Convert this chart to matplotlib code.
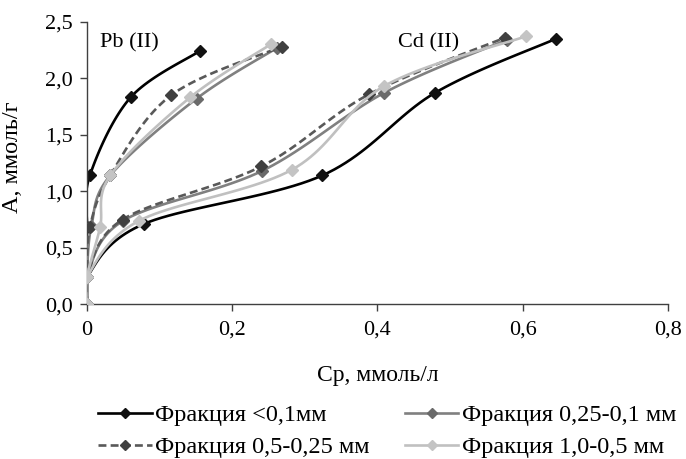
import numpy as np
import matplotlib
matplotlib.use("Agg")
import matplotlib.pyplot as plt
from matplotlib.lines import Line2D

plt.rcParams["font.family"] = ["Liberation Serif", "DejaVu Serif"]

# fraction labels, in Excel series order
labels = ["Фракция <0,1мм", "Фракция 0,25-0,1 мм", "Фракция 0,5-0,25 мм", "Фракция 1,0-0,5 мм"]

# Pb (II) isotherms: Cp (mmol/l) vs A (mmol/g)
pb_x = [
    [0, 0, 0, 0.004, 0.060, 0.155],
    [0, 0, 0.006, 0.032, 0.151, 0.262],
    [0, 0, 0.004, 0.032, 0.116, 0.268],
    [0, 0, 0.018, 0.032, 0.142, 0.253],
]
pb_y = [
    [0, 0.24, 0.68, 1.14, 1.83, 2.24],
    [0, 0.24, 0.69, 1.14, 1.82, 2.27],
    [0, 0.24, 0.68, 1.14, 1.85, 2.28],
    [0, 0.24, 0.68, 1.14, 1.83, 2.30],
]

# Cd (II) isotherms
cd_x = [
    [0, 0, 0.078, 0.324, 0.479, 0.646],
    [0, 0, 0.050, 0.241, 0.409, 0.578],
    [0, 0, 0.049, 0.240, 0.389, 0.576],
    [0, 0, 0.072, 0.282, 0.409, 0.604],
]
cd_y = [
    [0, 0.24, 0.71, 1.14, 1.87, 2.35],
    [0, 0.24, 0.74, 1.18, 1.87, 2.34],
    [0, 0.24, 0.75, 1.22, 1.86, 2.36],
    [0, 0.24, 0.74, 1.19, 1.93, 2.37],
]

line_colors = ["#000000", "#808080", "#595959", "#c0c0c0"]
marker_colors = ["#111111", "#6a6a6a", "#404040", "#c4c4c4"]
line_styles = ["-", "-", (0, (3, 1.6)), "-"]

XMAX, YMAX = 0.8, 2.5
FS = 16


def smooth(xs, ys, n=24):
    # Excel-like smoothed line: Catmull-Rom bezier in screen-ish space
    sx, sy = 581 / XMAX, 283 / YMAX
    P = np.column_stack([np.asarray(xs, float) * sx, np.asarray(ys, float) * sy])
    out = [P[0]]
    t = np.linspace(0, 1, n)[1:, None]
    for i in range(len(P) - 1):
        p0 = P[i - 1] if i > 0 else P[i]
        p1, p2 = P[i], P[i + 1]
        p3 = P[i + 2] if i + 2 < len(P) else P[i + 1]
        c1 = p1 + (p2 - p0) / 6
        c2 = p2 - (p3 - p1) / 6
        seg = ((1 - t) ** 3) * p1 + 3 * ((1 - t) ** 2) * t * c1 + 3 * (1 - t) * t ** 2 * c2 + t ** 3 * p2
        out.extend(seg)
    out = np.array(out)
    return out[:, 0] / sx, out[:, 1] / sy


fig = plt.figure(figsize=(6.86, 4.59), dpi=100)
ax = fig.add_axes([0.1268, 0.337, 0.8469, 0.6157])

for xs_set, ys_set in ((pb_x, pb_y), (cd_x, cd_y)):
    for i in range(4):
        xx, yy = smooth(xs_set[i], ys_set[i])
        ax.plot(xx, yy, color=line_colors[i], lw=1.9, ls=line_styles[i], zorder=2 + i)
        ax.plot(xs_set[i], ys_set[i], ls="none", marker="D", ms=6.5,
                mfc=marker_colors[i], mec=marker_colors[i], zorder=2.5 + i)

ax.set_xlim(0, XMAX)
ax.set_ylim(0, YMAX)
ax.set_xticks([0, 0.2, 0.4, 0.6, 0.8])
ax.set_xticklabels(["0", "0,2", "0,4", "0,6", "0,8"])
ax.set_yticks([0, 0.5, 1.0, 1.5, 2.0, 2.5])
ax.set_yticklabels(["0,0", "0,5", "1,0", "1,5", "2,0", "2,5"])
ax.spines["top"].set_visible(False)
ax.spines["right"].set_visible(False)
for s in ("left", "bottom"):
    ax.spines[s].set_color("#404040")
    ax.spines[s].set_linewidth(1.0)
ax.tick_params(direction="out", length=5, width=1.0, color="#404040", labelsize=FS)
ax.tick_params(axis="x", pad=7)
ax.tick_params(axis="y", pad=5)

ax.set_xlabel("Ср, ммоль/л", fontsize=17)
ax.xaxis.set_label_coords(0.5, -0.215)
ax.set_ylabel("А, ммоль/г", fontsize=17.5)
ax.yaxis.set_label_coords(-0.11, 0.52)

ax.text(0.018, 2.31, "Pb (II)", fontsize=FS, va="center", ha="left")
ax.text(0.428, 2.31, "Cd (II)", fontsize=FS, va="center", ha="left")

handles = []
for i in range(4):
    handles.append(Line2D([], [], color=line_colors[i], lw=1.9, ls=line_styles[i],
                          marker="D", ms=5, mfc=marker_colors[i], mec=marker_colors[i]))
order = [0, 2, 1, 3]
fig.legend([handles[k] for k in order], [labels[k] for k in order], ncol=2,
           loc="upper left", bbox_to_anchor=(0.143, 0.119), frameon=False,
           fontsize=17.5, handlelength=2.2, handletextpad=0.15, columnspacing=1.45,
           labelspacing=0.4, borderaxespad=0, borderpad=0, markerscale=1.0)

fig.savefig("out.png", dpi=100)
